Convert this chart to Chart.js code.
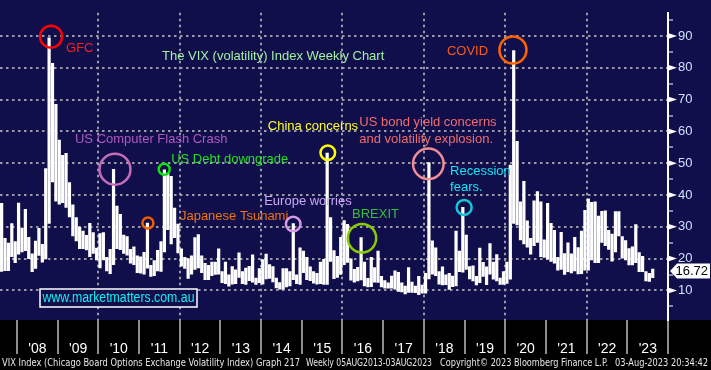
<!DOCTYPE html>
<html>
<head>
<meta charset="utf-8">
<script src="https://cdn.jsdelivr.net/npm/chart.js@4/dist/chart.umd.min.js"></script>
<style>
  html, body { margin: 0; padding: 0; background: #000; }
  canvas { display: block; }
</style>
</head>
<body>
<canvas id="vixChart" width="711" height="370"></canvas>
<script>
// VIX, one high/low bar per month, first bar is Aug 2007
const firstYear = 2007;
const firstMonth = 8;

const monthLows = [
    15.9, 16.1, 16.1, 20.5, 18.6,                                        // 2007
    21.3, 22.0, 22.4, 19.9, 15.8, 16.8, 20.9, 18.8, 19.8, 31.0, 44.0, 38.0, // 2008
    37.0, 37.5, 36.0, 33.0, 27.0, 25.5, 23.0, 23.0, 22.6, 20.5, 21.5, 19.5, // 2009
    17.0, 19.5, 16.0, 15.2, 18.0, 23.0, 22.7, 21.5, 21.0, 18.5, 18.0, 15.5, // 2010
    15.3, 15.0, 16.9, 14.3, 14.5, 16.0, 15.9, 22.0, 29.0, 24.5, 26.5, 21.7, // 2011
    17.5, 16.8, 13.7, 15.0, 16.5, 17.0, 15.5, 13.3, 13.3, 14.5, 14.9, 15.0, // 2012
    12.3, 12.0, 11.2, 11.9, 12.0, 14.0, 12.0, 11.8, 13.0, 12.5, 11.8, 12.3, // 2013
    11.9, 13.5, 13.7, 12.6, 10.7, 10.3, 10.3, 11.0, 11.3, 13.3, 12.0, 11.8, // 2014
    15.5, 13.3, 13.0, 12.2, 11.9, 12.0, 11.8, 11.8, 19.0, 13.6, 14.0, 14.9, // 2015
    18.0, 18.7, 13.1, 12.5, 12.9, 13.2, 11.3, 11.0, 11.1, 12.5, 12.4, 11.0, // 2016
    10.6, 10.6, 10.6, 10.3, 9.6, 9.4, 8.8, 9.3, 9.3, 9.2, 8.6, 9.0,         // 2017
    9.0, 13.5, 15.0, 14.5, 11.9, 11.6, 11.7, 10.2, 11.1, 11.3, 15.8, 15.6,  // 2018
    16.5, 13.5, 12.9, 11.6, 12.3, 14.3, 11.7, 15.0, 13.4, 12.9, 11.8, 11.8, // 2019
    12.1, 13.4, 31.0, 30.5, 25.8, 24.5, 23.5, 21.3, 24.0, 25.0, 20.5, 20.3, // 2020
    19.7, 19.0, 18.5, 16.3, 16.5, 14.9, 15.8, 15.4, 16.0, 15.1, 15.2, 16.3, // 2021
    16.3, 19.5, 18.6, 18.6, 25.0, 24.0, 22.8, 19.1, 22.0, 27.0, 20.0, 19.5, // 2022
    17.9, 17.9, 18.6, 15.8, 15.8, 12.9, 12.7, 13.9                          // 2023
];

const monthHighs = [
    37.5, 26.5, 25.0, 31.1, 25.5,                                        // 2007
    37.6, 29.7, 35.6, 26.8, 21.6, 25.6, 29.6, 24.6, 48.4, 89.5, 81.5, 68.6, // 2008
    57.4, 52.6, 53.2, 44.0, 37.0, 33.0, 30.0, 28.8, 27.4, 31.2, 28.3, 23.4, // 2009
    28.0, 28.3, 20.5, 23.0, 48.2, 36.6, 34.0, 27.5, 27.0, 23.0, 23.8, 21.0, // 2010
    20.7, 22.1, 31.3, 18.0, 19.5, 22.7, 25.5, 48.0, 46.9, 46.0, 36.0, 31.0, // 2011
    23.2, 20.5, 20.1, 21.0, 26.7, 27.7, 21.0, 18.6, 18.0, 19.0, 19.0, 23.2, // 2012
    16.0, 19.0, 15.0, 17.6, 16.6, 21.9, 16.0, 17.1, 17.7, 21.3, 14.0, 17.0, // 2013
    19.8, 21.5, 18.2, 17.6, 14.0, 12.6, 17.0, 17.0, 16.0, 31.1, 15.0, 23.5, // 2014
    22.5, 20.5, 17.5, 16.0, 15.5, 19.0, 19.9, 53.3, 33.0, 22.6, 20.8, 26.8, // 2015
    32.1, 30.9, 20.0, 16.7, 17.4, 26.7, 19.0, 13.9, 20.5, 17.3, 22.5, 14.5, // 2016
    13.2, 12.5, 14.6, 16.3, 15.8, 12.5, 11.5, 17.3, 12.7, 11.5, 14.5, 11.8, // 2017
    15.5, 50.3, 25.7, 23.5, 16.0, 17.5, 15.0, 15.5, 14.6, 28.8, 22.5, 36.2, // 2018
    27.5, 17.6, 17.8, 14.5, 23.4, 18.9, 17.5, 24.8, 19.0, 21.4, 14.0, 16.0, // 2019
    19.0, 49.5, 85.5, 57.0, 38.0, 44.4, 32.0, 26.5, 38.3, 41.2, 38.0, 26.0, // 2020
    37.5, 31.2, 29.0, 20.5, 28.4, 21.7, 25.1, 21.6, 26.8, 23.6, 28.8, 35.3, // 2021
    38.9, 37.8, 38.0, 33.5, 35.0, 35.1, 29.0, 27.8, 34.9, 34.9, 27.0, 25.8, // 2022
    23.3, 23.8, 30.8, 22.0, 20.8, 16.0, 15.5, 16.8                          // 2023
];

const lastValue = 16.72;

const yearTicks = [2008, 2009, 2010, 2011, 2012, 2013, 2014, 2015, 2016,
    2017, 2018, 2019, 2020, 2021, 2022, 2023, 2024];
const yearLabels = ["'08", "'09", "'10", "'11", "'12", "'13", "'14", "'15",
    "'16", "'17", "'18", "'19", "'20", "'21", "'22", "'23", ""];
const gridYears = [2010, 2012, 2014, 2016, 2018, 2020, 2022];
const valueTicks = [5, 10, 15, 20, 25, 30, 35, 40, 45, 50, 55, 60, 65, 70, 75, 80, 85, 90, 95];

const navy = '#110f4b';
const gridGrey = '#9a9aa6';
const clear = 'rgba(0,0,0,0)';
const fontFamily = '"Liberation Sans", Arial, sans-serif';

// circled events: ring at (year, value), text offset in px from the ring centre
const notes = [
    { lines: ['GFC'], color: '#ff1c1c', ring: '#ff0000', at: [2008.84, 89.8], r: 11, dx: 15, dy: 12 },
    { lines: ['COVID'], color: '#ff5a10', ring: '#ff6400', at: [2020.19, 85.6], r: 13.5, dx: -66, dy: 1 },
    { lines: ['US Computer Flash Crash'], color: '#b058c0', ring: '#c46cb8', at: [2010.41, 48.1], r: 15.5, dx: -40, dy: -30 },
    { lines: ['US Debt downgrade'], color: '#22e022', ring: '#10e010', at: [2011.62, 48.1], r: 5.5, dx: 7, dy: -10 },
    { lines: ['Japanese Tsunami'], color: '#f07412', ring: '#f05c00', at: [2011.22, 31.2], r: 5.5, dx: 32, dy: -7 },
    { lines: ['Europe worries'], color: '#cca8f6', ring: '#d49ae8', at: [2014.79, 30.9], r: 7.3, dx: -29, dy: -23 },
    { lines: ['China concerns'], color: '#ffff22', ring: '#ffff00', at: [2015.64, 53.3], r: 7.3, dx: -60, dy: -26 },
    { lines: ['US bond yield concerns', 'and volatility explosion.'], color: '#f06c6c', ring: '#f08c96', at: [2018.11, 49.8], r: 15.3, dx: -69, dy: -41 },
    { lines: ['Recession', 'fears.'], color: '#10e6f6', ring: '#10c8d8', at: [2018.99, 36.1], r: 7.5, dx: -14, dy: -36 },
    { lines: ['BREXIT'], color: '#36c036', ring: '#88cc00', at: [2016.48, 26.4], r: 14.2, dx: -10, dy: -24 }
];

const footer = [
    { text: 'VIX Index (Chicago Board Options Exchange Volatility Index) Graph 217', x: 2, w: 298 },
    { text: 'Weekly 05AUG2013-03AUG2023', x: 306, w: 126 },
    { text: 'Copyright\u00a9 2023 Bloomberg Finance L.P.', x: 440, w: 168 },
    { text: '03-Aug-2023 20:34:42', x: 615, w: 93 }
];

const backdrop = {
    id: 'backdrop',
    beforeDraw(chart) {
        const { ctx, chartArea: a, width, height } = chart;
        ctx.save();
        ctx.fillStyle = navy;
        ctx.fillRect(0, 0, width, a.bottom);
        ctx.fillStyle = '#000';
        ctx.fillRect(0, a.bottom, width, height - a.bottom);
        ctx.restore();
    }
};

const events = {
    id: 'events',
    afterDatasetsDraw(chart) {
        const { ctx, chartArea: a, scales } = chart;
        ctx.save();
        ctx.font = '13px ' + fontFamily;
        ctx.textBaseline = 'middle';
        ctx.textAlign = 'left';

        ctx.fillStyle = '#a2f0a2';
        ctx.fillText('The VIX (volatility) Index Weekly Chart', a.left + 162, a.top + 44);

        notes.forEach((n) => {
            const cx = scales.x.getPixelForValue(n.at[0]);
            const cy = scales.y.getPixelForValue(n.at[1]);
            ctx.strokeStyle = n.ring;
            ctx.lineWidth = 2.5;
            ctx.beginPath();
            ctx.arc(cx, cy, n.r, 0, Math.PI * 2);
            ctx.stroke();
            ctx.fillStyle = n.color;
            n.lines.forEach((line, k) => {
                ctx.fillText(line, cx + n.dx, cy + n.dy + k * 16.3);
            });
        });

        // site stamp
        ctx.fillStyle = navy;
        ctx.fillRect(a.left + 40, 289, 157, 18);
        ctx.strokeStyle = '#ffffff';
        ctx.lineWidth = 1.5;
        ctx.strokeRect(a.left + 40, 289, 157, 18);
        ctx.fillStyle = '#12eef6';
        ctx.font = '14px ' + fontFamily;
        ctx.textAlign = 'center';
        ctx.fillText('www.marketmatters.com.au', a.left + 118.5, 298.5, 152);
        ctx.restore();
    }
};

const axisExtras = {
    id: 'axisExtras',
    afterDraw(chart) {
        const { ctx, chartArea: a, scales } = chart;
        const y = scales.y;
        ctx.save();
        ctx.fillStyle = '#ffffff';
        valueTicks.filter((v) => v % 10 === 0).forEach((v) => {
            const py = y.getPixelForValue(v);
            ctx.beginPath();
            ctx.moveTo(a.right, py - 3);
            ctx.lineTo(a.right + 9, py);
            ctx.lineTo(a.right, py + 3);
            ctx.closePath();
            ctx.fill();
        });

        // last value tag
        const ly = y.getPixelForValue(lastValue) + 2;
        ctx.beginPath();
        ctx.moveTo(a.right + 2, ly);
        ctx.lineTo(a.right + 9, ly - 7.5);
        ctx.lineTo(710, ly - 7.5);
        ctx.lineTo(710, ly + 7.5);
        ctx.lineTo(a.right + 9, ly + 7.5);
        ctx.closePath();
        ctx.fill();
        ctx.fillStyle = '#000';
        ctx.font = '13px ' + fontFamily;
        ctx.textAlign = 'right';
        ctx.textBaseline = 'middle';
        ctx.fillText(lastValue.toFixed(2), 708, ly + 0.5);

        ctx.fillStyle = '#e6e6e6';
        ctx.font = '10px "DejaVu Sans Condensed", "DejaVu Sans", sans-serif';
        ctx.textAlign = 'left';
        footer.forEach((f) => ctx.fillText(f.text, f.x, 363.5, f.w));
        ctx.restore();
    }
};

const bars = monthLows.map((lo, i) => ({
    x: firstYear + (firstMonth - 1 + i + 0.5) / 12,
    y: [lo, monthHighs[i]]
}));

const ctx = document.getElementById('vixChart').getContext('2d');
const vixChart = new Chart(ctx, {
    type: 'bar',
    data: {
        datasets: [{
            label: 'VIX',
            data: bars,
            backgroundColor: '#ffffff',
            borderWidth: 0,
            barPercentage: 0.95,
            categoryPercentage: 1
        }]
    },
    options: {
        responsive: false,
        animation: false,
        devicePixelRatio: 1,
        layout: { padding: 0 },
        plugins: {
            legend: { display: false },
            tooltip: { enabled: false }
        },
        scales: {
            x: {
                type: 'linear',
                position: 'bottom',
                min: 2007.585,
                max: 2024,
                offset: false,
                afterBuildTicks: (s) => { s.ticks = yearTicks.map((v) => ({ value: v })); },
                afterFit: (s) => { s.height = 50; },
                grid: {
                    offset: false,
                    color: (c) => (c.tick && gridYears.includes(c.tick.value)) ? gridGrey : clear,
                    lineWidth: 2,
                    tickColor: '#bdbdbd',
                    tickWidth: 1.5,
                    tickLength: 34
                },
                border: { display: false, dash: [2.5, 3.5] },
                ticks: {
                    color: '#ffffff',
                    font: { family: fontFamily, size: 14 },
                    labelOffset: 20.5,
                    padding: -13,
                    maxRotation: 0,
                    autoSkip: false,
                    callback: (v) => yearLabels[yearTicks.indexOf(v)] || ''
                }
            },
            y: {
                position: 'right',
                min: 0.7,
                max: 97.3,
                afterBuildTicks: (s) => { s.ticks = valueTicks.map((v) => ({ value: v })); },
                afterFit: (s) => { s.width = 43; },
                grid: {
                    color: (c) => (c.tick && c.tick.value % 10 === 0) ? gridGrey : clear,
                    lineWidth: 2,
                    tickColor: '#ffffff',
                    tickWidth: 1,
                    tickLength: 5
                },
                border: { display: true, color: '#ffffff', width: 2, dash: [2.5, 3.5] },
                ticks: {
                    color: '#cfe0ff',
                    font: { family: fontFamily, size: 13 },
                    padding: 5,
                    autoSkip: false,
                    callback: (v) => v % 10 === 0 ? String(v) : ''
                }
            }
        }
    },
    plugins: [backdrop, events, axisExtras]
});
</script>
</body>
</html>
